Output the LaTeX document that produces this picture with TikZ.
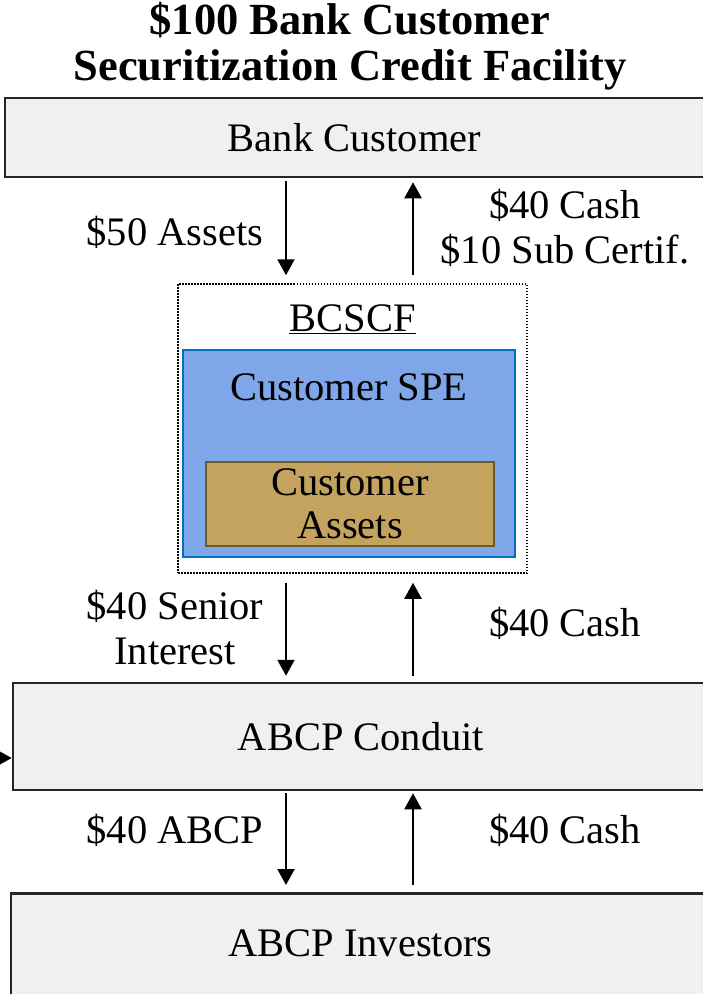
\documentclass[tikz,border=0pt]{standalone}
\usepackage{fontspec}
\setmainfont{Liberation Serif}
\usetikzlibrary{arrows.meta}

\definecolor{boxgray}{HTML}{F0F0F0}
\definecolor{spefill}{HTML}{7EA6E8}
\definecolor{speline}{HTML}{0070C0}
\definecolor{assetfill}{HTML}{C4A35F}
\definecolor{assetline}{HTML}{6B5A2E}

\tikzset{
  party/.style={draw=black!85, line width=2.5pt, fill=boxgray},
  flow/.style={line width=2.2pt, -{Triangle[length=16pt,width=17pt]}},
  lbl/.style={font=\fontsize{40.5}{45}\selectfont, align=center},
}

\begin{document}
\begin{tikzpicture}[x=1pt,y=-1pt]

\useasboundingbox (0,0) rectangle (702,994);

% title
\node[font=\fontsize{44.5}{46}\selectfont\bfseries, align=center] (title) at (350,46)
  {\$100 Bank Customer\\Securitization Credit Facility};

% boxes
\node[party, lbl, minimum width=699, minimum height=79] (bank) at (354.5,137.5) {Bank Customer};

\node[draw, line width=1.5pt, dash pattern=on 1.5pt off 1.5pt,
      minimum width=349, minimum height=289] (bcscf) at (352.5,428.5) {};
\node[lbl, anchor=center] (bcscftext) at ([yshift=-36pt]bcscf.north) {\underline{BCSCF}};

\node[draw=speline, fill=spefill, line width=1.5pt,
      minimum width=332, minimum height=207] (spe) at (349,453.5) {};
\node[lbl] (spetext) at ([yshift=-38pt]spe.north) {Customer SPE};

\node[draw=assetline, fill=assetfill, line width=1.5pt, lbl,
      font=\fontsize{40.5}{43}\selectfont,
      minimum width=288, minimum height=84] (assets) at (350,504) {Customer\\Assets};

\node[party, lbl, minimum width=696, minimum height=107] (conduit) at (361,736.5) {ABCP Conduit};

\node[party, minimum width=699, minimum height=130, anchor=north] (investors) at (360.5,892) {};
\node[lbl] (invtext) at ([yshift=-51pt]investors.north) {ABCP Investors};

% arrow columns
\coordinate (lx) at (286,0);
\coordinate (rx) at (413,0);
\coordinate (feed) at (-30,758);

% Bank Customer <-> BCSCF
\draw[flow, shorten <=3pt, shorten >=8pt] (bank.south -| lx) -- (bcscf.north -| lx);
\draw[flow, shorten <=8pt, shorten >=4pt] (bcscf.north -| rx) -- (bank.south -| rx);
\node[lbl] (l50) at (175,232) {\$50 Assets};
\node[lbl] (l40a) at (565,228) {\$40 Cash\\\$10 Sub Certif.};

% BCSCF <-> Conduit
\draw[flow, shorten <=9pt, shorten >=6pt] (bcscf.south -| lx) -- (conduit.north -| lx);
\draw[flow, shorten <=6pt, shorten >=9pt] (conduit.north -| rx) -- (bcscf.south -| rx);
\node[lbl] (lsen) at (175,628) {\$40 Senior\\Interest};
\node[lbl] (l40b) at (565,623) {\$40 Cash};

% Conduit <-> Investors
\draw[flow, shorten <=2pt, shorten >=7pt] (conduit.south -| lx) -- (investors.north -| lx);
\draw[flow, shorten <=7pt, shorten >=2pt] (investors.north -| rx) -- (conduit.south -| rx);
\node[lbl] (labcp) at (175,830) {\$40 ABCP};
\node[lbl] (l40c) at (565,830) {\$40 Cash};

% feed into conduit
\draw[flow] (feed) -- (feed -| conduit.west);

\end{tikzpicture}
\end{document}
